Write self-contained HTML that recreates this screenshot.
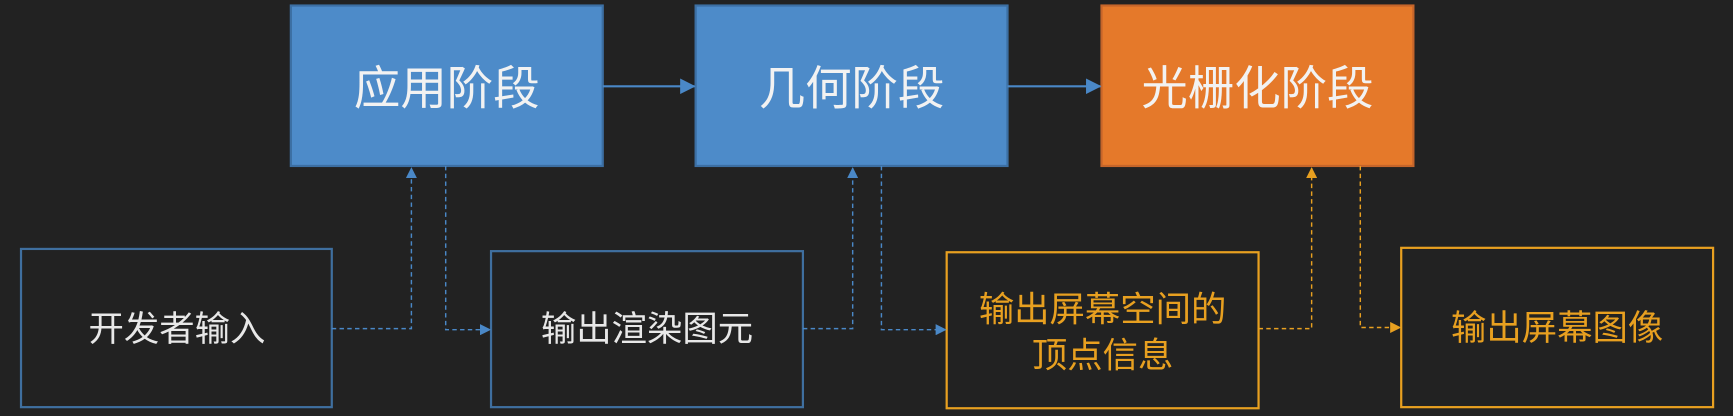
<!DOCTYPE html>
<html><head><meta charset="utf-8"><style>
html,body{margin:0;padding:0;background:#222222;}
svg{display:block}
text{font-family:"Liberation Sans","Noto Sans CJK SC",sans-serif;text-anchor:middle;dominant-baseline:central}
</style></head><body>
<svg width="1733" height="416" viewBox="0 0 1567 376" preserveAspectRatio="none">
<rect width="1567" height="376" fill="#222222"/>
<defs>
<marker id="ab" markerWidth="10" markerHeight="10" refX="9" refY="5" orient="auto" markerUnits="userSpaceOnUse"><path d="M0,0 L10,5 L0,10 z" fill="#4a88c7"/></marker>
<marker id="ao" markerWidth="10" markerHeight="10" refX="9" refY="5" orient="auto" markerUnits="userSpaceOnUse"><path d="M0,0 L10,5 L0,10 z" fill="#e8a020"/></marker>
<marker id="ab2" markerWidth="14" markerHeight="14" refX="13" refY="7" orient="auto" markerUnits="userSpaceOnUse"><path d="M0,0 L14,7 L0,14 z" fill="#4a88c7"/></marker>
</defs>
<rect x="263" y="5" width="282" height="145" fill="#4d8bc9" stroke="#3c6fa3" stroke-width="2"/>
<rect x="629" y="5" width="282" height="145" fill="#4d8bc9" stroke="#3c6fa3" stroke-width="2"/>
<rect x="996" y="5" width="282" height="145" fill="#e5792a" stroke="#c5652a" stroke-width="2"/>
<text x="404" y="80" font-size="42" fill="#f2f2f2">应用阶段</text>
<text x="770" y="80" font-size="42" fill="#f2f2f2">几何阶段</text>
<text x="1137" y="80" font-size="42" fill="#f2f2f2">光栅化阶段</text>
<line x1="545" y1="78" x2="628" y2="78" stroke="#4a88c7" stroke-width="2" marker-end="url(#ab2)"/>
<line x1="911" y1="78" x2="995" y2="78" stroke="#4a88c7" stroke-width="2" marker-end="url(#ab2)"/>
<rect x="19" y="225" width="281" height="143" fill="none" stroke="#3f6f9f" stroke-width="2"/>
<rect x="444" y="227" width="282" height="141" fill="none" stroke="#3f6f9f" stroke-width="2"/>
<rect x="856" y="228" width="282" height="141" fill="none" stroke="#e8a020" stroke-width="2"/>
<rect x="1267" y="224" width="282" height="144" fill="none" stroke="#e8a020" stroke-width="2"/>
<text x="160" y="298" font-size="32" fill="#e8e8e8">开发者输入</text>
<text x="585" y="298" font-size="32" fill="#e8e8e8">输出渲染图元</text>
<text x="997" y="280" font-size="32" fill="#e8a020">输出屏幕空间的</text>
<text x="997" y="322" font-size="32" fill="#e8a020">顶点信息</text>
<text x="1408" y="297" font-size="32" fill="#e8a020">输出屏幕图像</text>
<g fill="none" stroke-width="1.3" stroke-dasharray="4,3">
<polyline points="300,297 372,297 372,152" stroke="#4a88c7" marker-end="url(#ab)"/>
<polyline points="403,150 403,298 443,298" stroke="#4a88c7" marker-end="url(#ab)"/>
<polyline points="726,297 771,297 771,152" stroke="#4a88c7" marker-end="url(#ab)"/>
<polyline points="797,150 797,298 855,298" stroke="#4a88c7" marker-end="url(#ab)"/>
<polyline points="1138,297 1186,297 1186,152" stroke="#e8a020" marker-end="url(#ao)"/>
<polyline points="1230,150 1230,296 1266,296" stroke="#e8a020" marker-end="url(#ao)"/>
</g>
</svg>
</body></html>
